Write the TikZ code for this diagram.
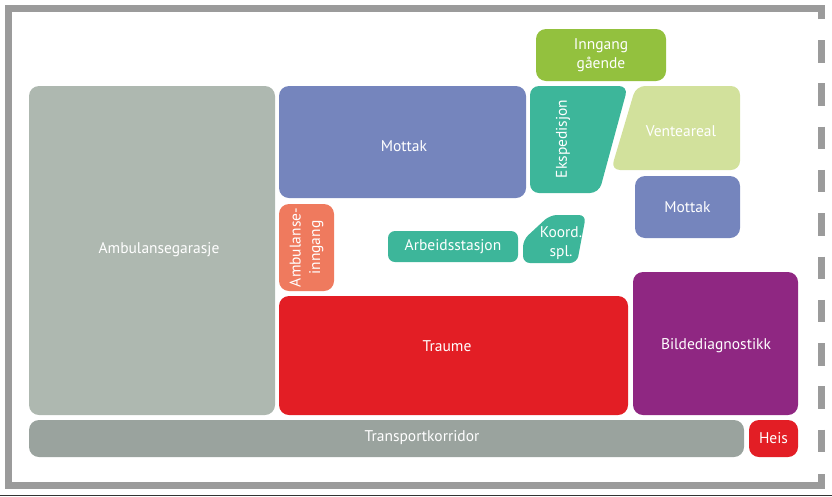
\documentclass[tikz,border=0pt]{standalone}
\usepackage{fontspec}
\setmainfont{PT Sans}
\definecolor{garage}{HTML}{AEB8B0}
\definecolor{mblue}{HTML}{7585BD}
\definecolor{mteal}{HTML}{3DB69A}
\definecolor{mgreen}{HTML}{93C13E}
\definecolor{lgreen}{HTML}{D2E19C}
\definecolor{salmon}{HTML}{EF7A5E}
\definecolor{mred}{HTML}{E31E25}
\definecolor{mpurple}{HTML}{8F2782}
\definecolor{corr}{HTML}{9AA39E}
\definecolor{bordergray}{HTML}{9B9B9B}
\begin{document}
\begin{tikzpicture}[x=1pt,y=-1pt,
  room/.style={rounded corners=10pt, text=white, align=center, inner sep=0pt,
    font=\fontsize{15.5}{19.5}\selectfont},
  lbl/.style={text=white, align=center, inner sep=0pt, font=\fontsize{15.5}{19.5}\selectfont},
  frame/.style={line width=7pt, draw=bordergray}]
\useasboundingbox (0,0) rectangle (832,496);
% frame
\draw[frame] (821.5,19) -- (821.5,8.5) -- (8.5,8.5) -- (8.5,485.5) -- (821.5,485.5) -- (821.5,474);
\foreach \s in {40,83.3,126.6,169.9,213.2,256.5,299.8,343.1,386.4,429.7}
  \draw[frame] (821.5,\s) -- (821.5,\s+22.5);
\draw[line width=1.2pt, draw=black!80] (0,495.4) -- (832,495.4);
% rooms
\node[room, fill=garage, minimum width=246pt, minimum height=329pt] (garasje) at (152,250.5) {};
\node[lbl] (garasjeT) at (159,250) {Ambulansegarasje};
\node[room, fill=mblue, minimum width=247pt, minimum height=112pt] (mottak) at (402.5,142) {};
\node[lbl] (mottakT) at (404,146) {Mottak};
\node[room, fill=mgreen, minimum width=130pt, minimum height=52pt] (inngang) at (601,55) {Inngang\\gående};
\node[room, fill=mblue, minimum width=105pt, minimum height=62pt] (mottak2) at (687.5,207) {Mottak};
\node[room, fill=salmon, minimum width=87pt, minimum height=55pt, rotate=90] (ambinn) at (306.5,247.5) {Ambulanse-\\inngang};
\node[room, fill=mteal, minimum width=130pt, minimum height=31pt, rounded corners=7pt] (arbeid) at (453,246.5) {Arbeidsstasjon};
\node[room, fill=mred, minimum width=349pt, minimum height=119pt] (traume) at (453.5,355.5) {};
\node[lbl] (traumeT) at (447,346) {Traume};
\node[room, fill=mpurple, minimum width=165pt, minimum height=143pt] (bilde) at (715.5,343.5) {};
\node[lbl] (bildeT) at (716,346) {Bildediagnostikk};
\node[room, fill=corr, minimum width=715pt, minimum height=37pt] (korridor) at (386.5,438.5) {};
\node[lbl] (korridorT) at (422,438) {Transportkorridor};
\node[room, fill=mred, minimum width=49pt, minimum height=37pt] (heis) at (773.5,438.5) {Heis};
% slanted rooms
\fill[mteal, rounded corners=9pt] (530,86) -- (628,86) -- (599,193) -- (530,193) -- cycle;
\node[lbl, rotate=90] (eksp) at (563,139) {Ekspedisjon};
\fill[lgreen, rounded corners=9pt] (636,86) -- (740,86) -- (740,170) -- (611,170) -- cycle;
\node[lbl] (vente) at (681,131) {Venteareal};
\fill[mteal, rounded corners=7pt] (550,215) -- (586,215) -- (577,263) -- (523,263) -- (523,240) -- cycle;
\node[lbl] (koord) at (561,243) {Koord.\\spl.};
\end{tikzpicture}
\end{document}
